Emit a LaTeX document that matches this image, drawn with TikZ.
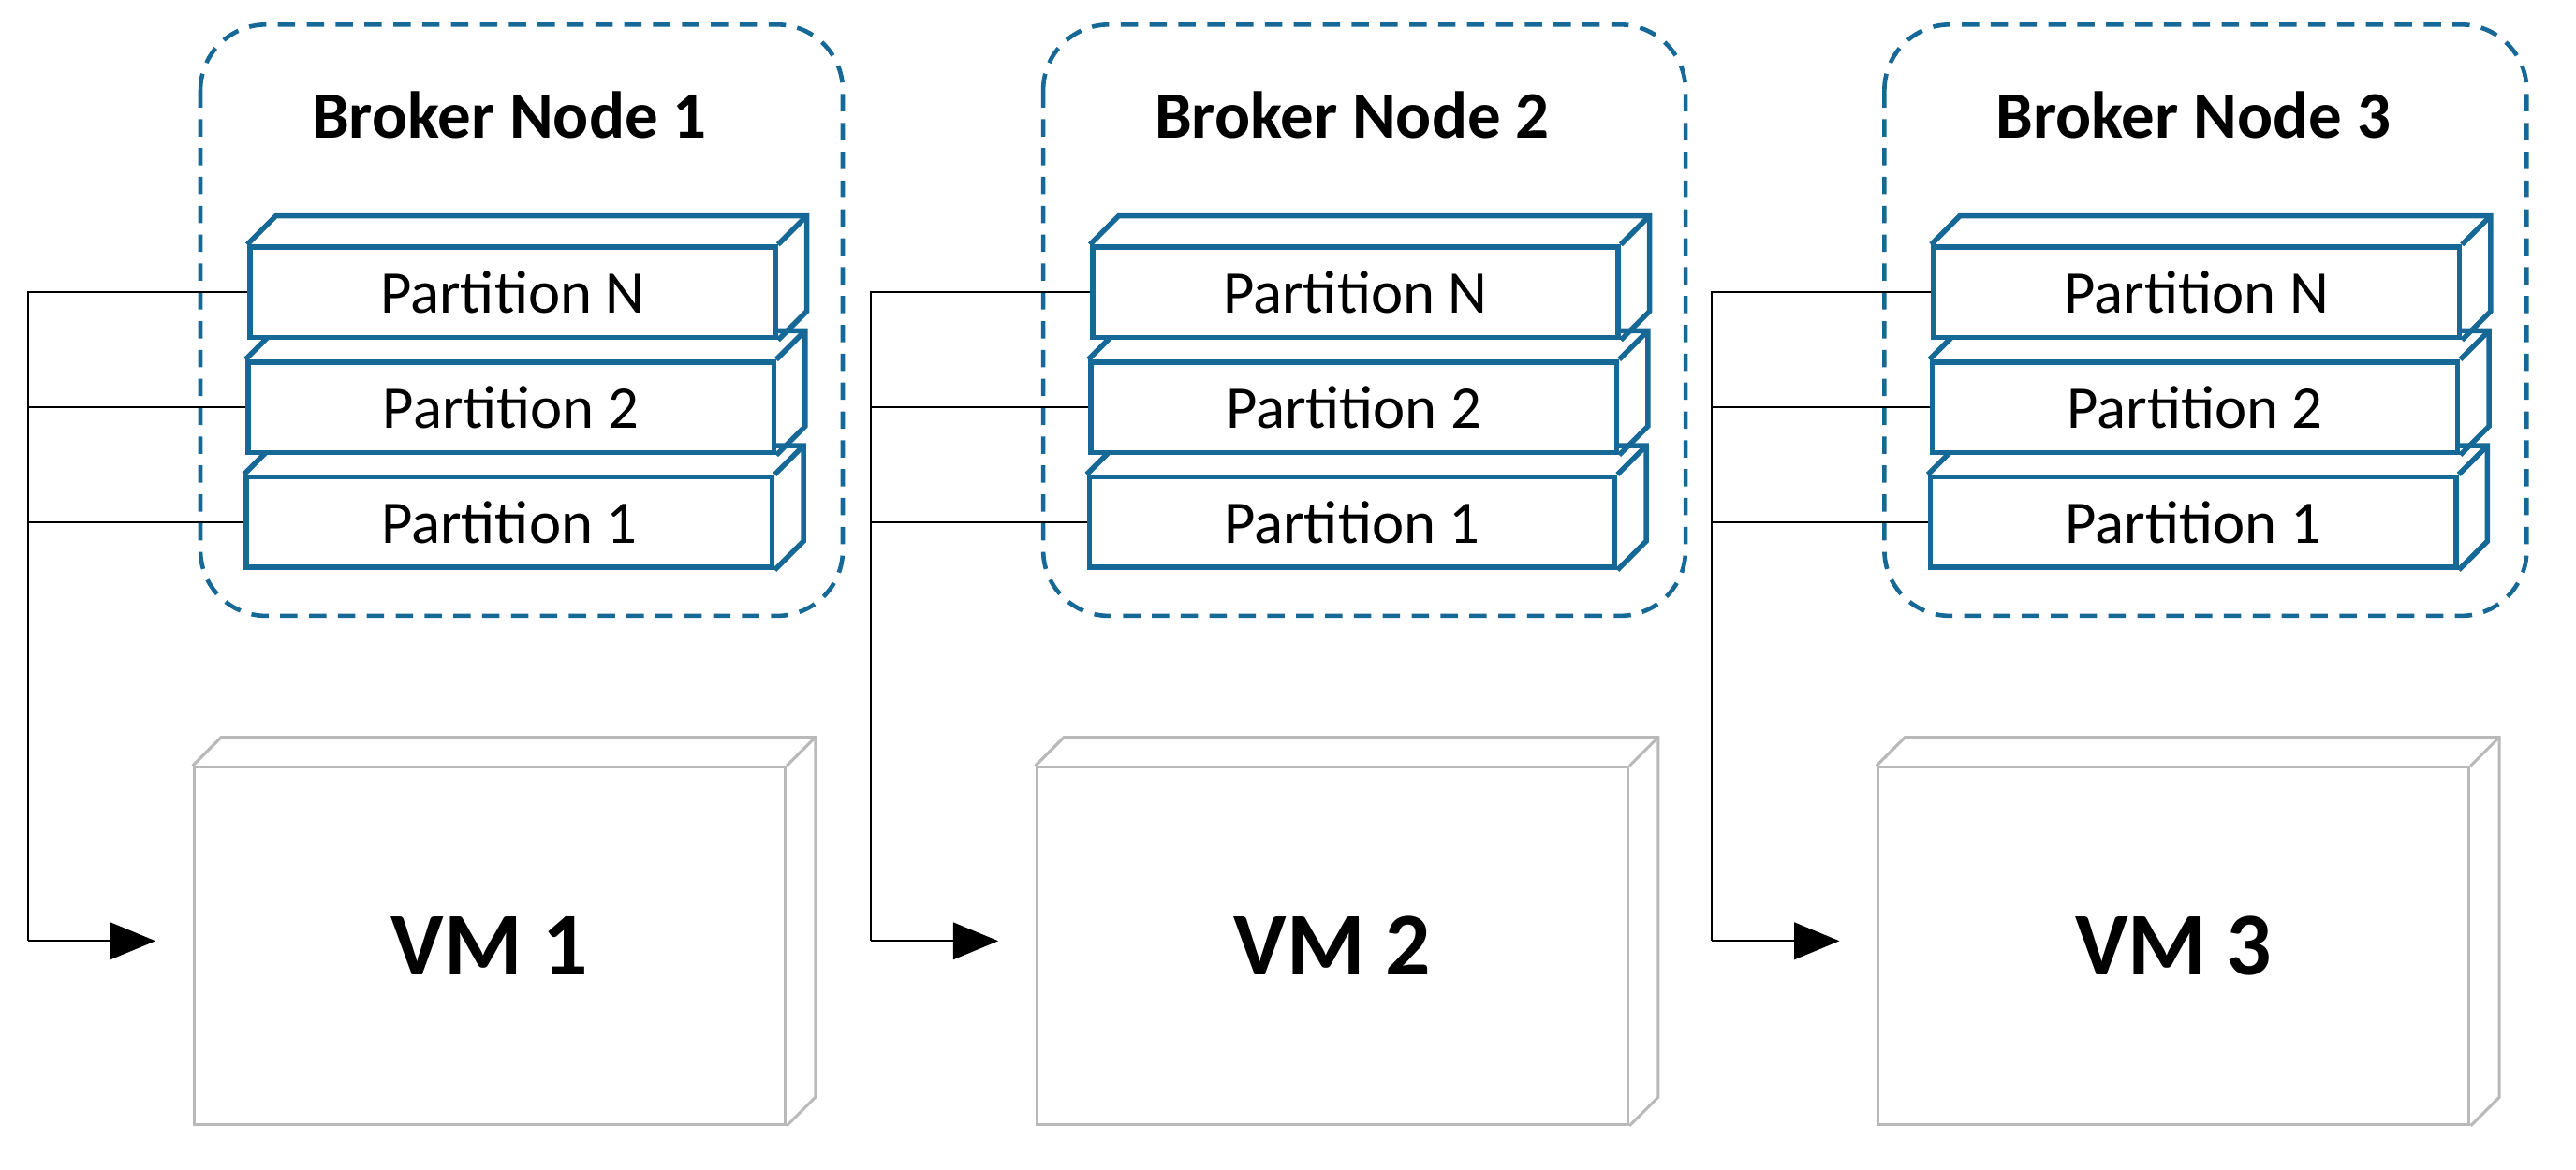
\documentclass[tikz,border=0pt]{standalone}
\usepackage{fontspec}
\setmainfont{Carlito}
\usetikzlibrary{calc,arrows.meta}
\definecolor{kblue}{RGB}{22,104,150}
\definecolor{vmgray}{RGB}{185,185,185}
\newcommand{\cubeside}[2]{%
  \draw[#2] (#1.north west) -- ++(0.35cm,0.35cm) -- ($(#1.north east)+(0.35cm,0.35cm)$)
    -- ($(#1.south east)+(0.35cm,0.35cm)$) -- (#1.south east);
  \draw[#2] (#1.north east) -- ++(0.35cm,0.35cm);}
\begin{document}
\begin{tikzpicture}[x=0.02cm,y=-0.02cm,
    broker/.style={draw=kblue, line width=1.5pt, dash pattern=on 6pt off 4pt, rounded corners=0.8cm},
    title/.style={font=\bfseries\fontsize{23}{27}\selectfont},
    part/.style={draw=kblue, line width=1.8pt, fill=white, minimum width=6.4cm, minimum height=1.1cm, inner sep=0pt, font=\fontsize{21}{25}\selectfont},
    vm/.style={draw=vmgray, line width=1pt, fill=white, minimum width=7.2cm, minimum height=4.35cm, inner sep=0pt, font=\bfseries\fontsize{31}{36}\selectfont},
    link/.style={line width=0.7pt},
    arrow/.style={link, -{Triangle[length=0.55cm,width=0.45cm]}}
  ]
  \useasboundingbox (0,0) rectangle (1568,712);

  \foreach \i/\dx in {1/0,2/513,3/1025}{
    \begin{scope}[xshift=\dx*0.02cm]
      \draw[broker] (122,15) rectangle (513,375);
      \node[title] (title\i) at (310,70) {Broker Node \i};

      % partitions, bottom first
      \node[part] (p1\i) at (310,318) {Partition 1};
      \cubeside{p1\i}{kblue, line width=1.8pt}
      \node[part] (p2\i) at (311,248) {Partition 2};
      \cubeside{p2\i}{kblue, line width=1.8pt}
      \node[part] (pn\i) at (312,178) {Partition N};
      \cubeside{pn\i}{kblue, line width=1.8pt}

      \node[vm] (vm\i) at (298,576) {VM \i};
      \cubeside{vm\i}{vmgray, line width=1pt}

      \coordinate (bus\i) at (17,573);
      \draw[link] (pn\i.west) -| (bus\i);
      \draw[link] (p2\i.west) -- (bus\i |- p2\i.west);
      \draw[link] (p1\i.west) -- (bus\i |- p1\i.west);
      \draw[arrow] (bus\i) -- ($(vm\i.west |- bus\i)+(-0.45cm,0)$);
    \end{scope}
  }
\end{tikzpicture}
\end{document}
